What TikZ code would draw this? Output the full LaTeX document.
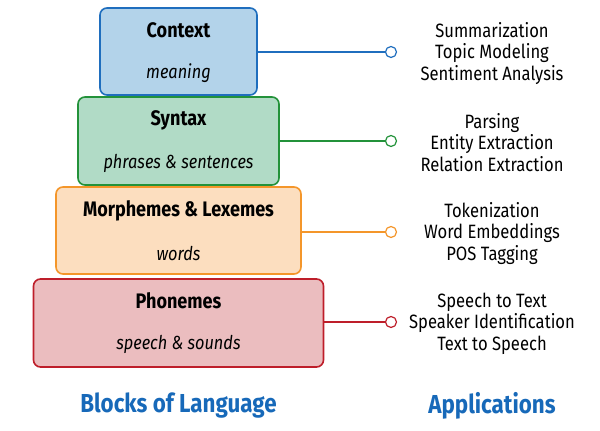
\documentclass[tikz,border=0pt]{standalone}
\usepackage{fontspec}
\setmainfont{Fira Sans}[FakeStretch=0.86]
\definecolor{cxfill}{HTML}{B3D3EA}
\definecolor{cxline}{HTML}{1F6EBE}
\definecolor{syfill}{HTML}{B1DBC6}
\definecolor{syline}{HTML}{23923A}
\definecolor{mofill}{HTML}{FCDEBF}
\definecolor{moline}{HTML}{F4962A}
\definecolor{phfill}{HTML}{EBBDBF}
\definecolor{phline}{HTML}{BE1E2A}
\definecolor{ttblue}{HTML}{1769B9}
\tikzset{
  blockbox/.style={rectangle, rounded corners=7pt, line width=1.6pt, inner sep=0pt},
  blocktitle/.style={font=\fontsize{21}{24}\selectfont\bfseries, anchor=center},
  blocksub/.style={font=\fontsize{19}{22}\selectfont\itshape, anchor=center},
  apptext/.style={font=\fontsize{19.3}{21.5}\selectfont, align=center, anchor=center},
  endcirc/.style={circle, draw, fill=white, line width=1.2pt, minimum size=11pt, inner sep=0pt},
  conn/.style={line width=1.4pt},
  bigtitle/.style={font=\fontsize{26}{30}\selectfont\bfseries, text=ttblue, anchor=center}
}
\begin{document}
\begin{tikzpicture}[x=1pt,y=1pt]
\useasboundingbox (0,0) rectangle (600,431);
% boxes
\node[blockbox, draw=cxline, fill=cxfill, minimum width=157pt, minimum height=87pt] (cx) at (178.5,379.5) {};
\node[blockbox, draw=syline, fill=syfill, minimum width=201pt, minimum height=88pt] (sy) at (178.5,290) {};
\node[blockbox, draw=moline, fill=mofill, minimum width=245pt, minimum height=87pt] (mo) at (178.5,200.5) {};
\node[blockbox, draw=phline, fill=phfill, minimum width=290pt, minimum height=88pt] (ph) at (178.5,108) {};
% box texts
\node[blocktitle] (cxt) at (178.5,401) {Context};
\node[blocksub] (cxs) at (178.5,358) {meaning};
\node[blocktitle] (syt) at (178.5,311) {Syntax};
\node[blocksub] (sys) at (178.5,268) {phrases \& sentences};
\node[blocktitle] (mot) at (178.5,220) {Morphemes \& Lexemes};
\node[blocksub] (mos) at (178.5,177) {words};
\node[blocktitle] (pht) at (178.5,130) {Phonemes};
\node[blocksub] (phs) at (178.5,87) {speech \& sounds};
% end circles
\node[endcirc, draw=cxline] (cxc) at (391,379) {};
\node[endcirc, draw=syline] (syc) at (391,290) {};
\node[endcirc, draw=moline] (moc) at (391,199) {};
\node[endcirc, draw=phline] (phc) at (391,109) {};
% connectors
\draw[conn, cxline] (cx.east |- cxc) -- (cxc.west);
\draw[conn, syline] (sy.east |- syc) -- (syc.west);
\draw[conn, moline] (mo.east |- moc) -- (moc.west);
\draw[conn, phline] (ph.east |- phc) -- (phc.west);
% applications
\node[apptext] (cxa) at (492,377.5) {Summarization\\Topic Modeling\\Sentiment Analysis};
\node[apptext] (sya) at (492,288.5) {Parsing\\Entity Extraction\\Relation Extraction};
\node[apptext] (moa) at (492,197.5) {Tokenization\\Word Embeddings\\POS Tagging};
\node[apptext] (pha) at (492,107.5) {Speech to Text\\Speaker Identification\\Text to Speech};
% titles
\node[bigtitle] (bl) at (178.5,25) {Blocks of Language};
\node[bigtitle] (ap) at (492,25) {Applications};
\end{tikzpicture}
\end{document}
